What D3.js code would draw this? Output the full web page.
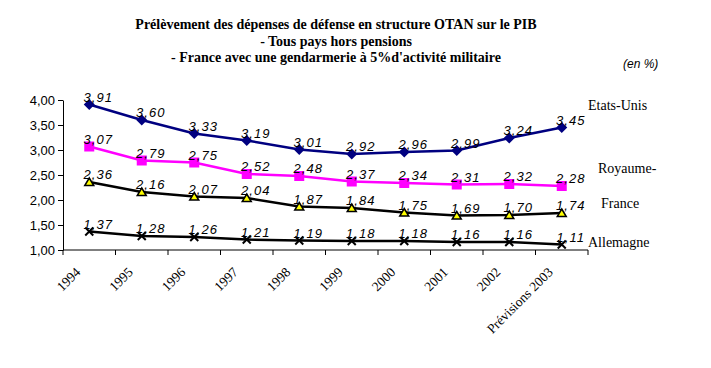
<!DOCTYPE html>
<html>
<head>
<meta charset="utf-8">
<script src="https://cdn.jsdelivr.net/npm/d3@7"></script>
<style>
  body { margin: 0; background: #fff; }
  svg { display: block; }
</style>
</head>
<body>
<svg width="711" height="368"></svg>
<script>
// categories and series
var years = ["1994", "1995", "1996", "1997", "1998", "1999", "2000", "2001", "2002", "Prévisions 2003"];
var etatsUnis = [3.91, 3.60, 3.33, 3.19, 3.01, 2.92, 2.96, 2.99, 3.24, 3.45];
var royaumeUni = [3.07, 2.79, 2.75, 2.52, 2.48, 2.37, 2.34, 2.31, 2.32, 2.28];
var france = [2.36, 2.16, 2.07, 2.04, 1.87, 1.84, 1.75, 1.69, 1.70, 1.74];
var allemagne = [1.37, 1.28, 1.26, 1.21, 1.19, 1.18, 1.18, 1.16, 1.16, 1.11];
var yTicks = [1, 1.5, 2, 2.5, 3, 3.5, 4];
var titleLines = [
  "Prélèvement des dépenses de défense en structure OTAN sur le PIB",
  "- Tous pays hors pensions",
  "- France avec une gendarmerie à 5%d'activité militaire"
];

var series = [
  {name: "Etats-Unis", values: etatsUnis, color: "#000080", marker: "diamond", lx: 588, ly: 110},
  {name: "Royaume-", values: royaumeUni, color: "#ff00ff", marker: "square", lx: 598, ly: 173},
  {name: "France", values: france, color: "#000000", marker: "triangle", lx: 601, ly: 208},
  {name: "Allemagne", values: allemagne, color: "#000000", marker: "cross", lx: 588, ly: 247}
];

var svg = d3.select("svg");
var fmt = function(v) { return d3.format(".2f")(v).replace(".", ","); };

var x = d3.scaleBand().domain(years).range([63, 588]);
var y = d3.scaleLinear().domain([1, 4]).range([250, 100]);
var cx = function(i) { return x(years[i]) + x.bandwidth() / 2; };

// title
svg.append("g").selectAll("text")
  .data(titleLines)
  .enter().append("text")
  .attr("x", 336)
  .attr("y", function(d, i) { return 29 + i * 16.5; })
  .attr("text-anchor", "middle")
  .style("font-family", "Liberation Serif")
  .style("font-weight", "bold")
  .style("font-size", "14px")
  .text(function(d) { return d; });

svg.append("text")
  .attr("x", 623).attr("y", 68)
  .style("font-family", "Liberation Sans")
  .style("font-style", "italic")
  .style("font-size", "12px")
  .text("(en %)");

// y axis
var yAxis = svg.append("g")
  .attr("transform", "translate(63,0)")
  .call(d3.axisLeft(y).tickValues(yTicks).tickSize(5).tickSizeOuter(0).tickFormat(fmt));
yAxis.select(".domain").attr("stroke", "#000");
yAxis.selectAll("text")
  .attr("x", -8)
  .style("font-family", "Liberation Sans")
  .style("font-size", "13px")
  .attr("fill", "#000");

// x axis
var xAxis = svg.append("g")
  .attr("transform", "translate(0,250)")
  .call(d3.axisBottom(x).tickSize(0).tickFormat(""));
xAxis.select(".domain").attr("stroke", "#000").attr("d", "M63,0H588");
svg.append("g").selectAll("line")
  .data(years.concat(["end"]))
  .enter().append("line")
  .attr("x1", function(d, i) { return i < years.length ? x(d) : x.range()[1]; })
  .attr("x2", function(d, i) { return i < years.length ? x(d) : x.range()[1]; })
  .attr("y1", 250).attr("y2", 255)
  .attr("stroke", "#000");

svg.append("g").selectAll("text")
  .data(years)
  .enter().append("text")
  .attr("transform", function(d, i) { return "translate(" + (cx(i) - 8) + ",273) rotate(-45)"; })
  .attr("text-anchor", "end")
  .style("font-family", "Liberation Serif")
  .style("font-size", "13.5px")
  .text(function(d) { return d; });

// lines
var line = d3.line()
  .x(function(d, i) { return cx(i); })
  .y(function(d) { return y(d); });

series.forEach(function(s) {
  var g = svg.append("g");
  g.append("path")
    .datum(s.values)
    .attr("d", line)
    .attr("fill", "none")
    .attr("stroke", s.color)
    .attr("stroke-width", 2.5);

  var m = g.selectAll("g.m")
    .data(s.values)
    .enter().append("g")
    .attr("transform", function(d, i) { return "translate(" + cx(i) + "," + y(d) + ")"; });

  if (s.marker === "diamond") {
    m.append("path").attr("d", "M0,-5.5L5.5,0L0,5.5L-5.5,0Z").attr("fill", s.color);
  } else if (s.marker === "square") {
    m.append("rect").attr("x", -5).attr("y", -5).attr("width", 10).attr("height", 10).attr("fill", s.color);
  } else if (s.marker === "triangle") {
    m.append("path").attr("d", "M0,-4L4.5,3.5L-4.5,3.5Z")
      .attr("fill", "#ffff00").attr("stroke", "#000").attr("stroke-width", 1.5);
  } else {
    m.append("path").attr("d", "M-4,-4L4,4M-4,4L4,-4")
      .attr("stroke", "#000").attr("stroke-width", 2);
  }

  g.selectAll("text.v")
    .data(s.values)
    .enter().append("text")
    .attr("x", function(d, i) { return cx(i) + 9; })
    .attr("y", function(d) { return y(d) - 3; })
    .attr("text-anchor", "middle")
    .style("font-family", "Liberation Sans")
    .style("font-style", "italic")
    .style("font-size", "13px")
    .style("letter-spacing", "1px")
    .text(fmt);

  svg.append("text")
    .attr("x", s.lx).attr("y", s.ly)
    .style("font-family", "Liberation Serif")
    .style("font-size", "14px")
    .text(s.name);
});
</script>
</body>
</html>
